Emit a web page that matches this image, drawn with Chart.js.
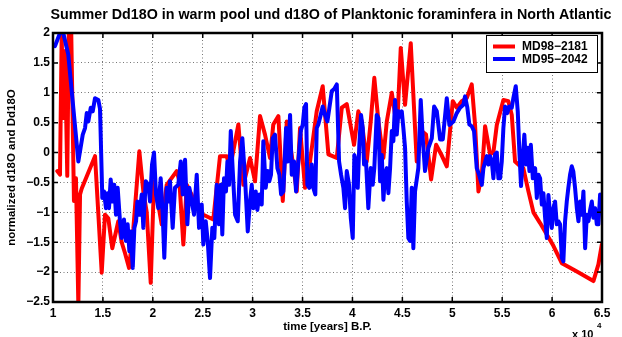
<!DOCTYPE html>
<html>
<head>
<meta charset="utf-8">
<script src="https://cdn.jsdelivr.net/npm/chart.js@4.4.0/dist/chart.umd.min.js"></script>
<style>
  html, body { margin: 0; padding: 0; background: #fff; }
  canvas { display: block; }
</style>
</head>
<body>
<canvas id="chart" width="622" height="337"></canvas>
<script>
// ─── Data (years B.P. / normalized values) ─────────────────────────────
const redYears = [
  10430, 10700, 10870, 11030, 11200, 11430, 11600, 11800, 12100, 12300,
  12540, 12710, 12880, 14210, 14880, 15210, 15540, 15940, 16540, 16880,
  17210, 17620, 18050, 18650, 19050, 19390, 19790, 20120, 20550, 20890,
  21390, 22390, 22660, 23060, 23400, 23900, 24400, 25060, 26060, 26730,
  27400, 27740, 28570, 29070, 29740, 30240, 30740, 31240, 31740, 32070,
  32580, 33020, 33420, 33920, 34420, 34750, 35250, 35750, 36420, 37020,
  37590, 38430, 38930, 39430, 40160, 40590, 40930, 41430, 41830, 42190,
  42600, 43100, 43440, 43940, 44270, 44500, 44840, 45270, 45840, 46440,
  46940, 47370, 47880, 48380, 48950, 49450, 50050, 50450, 50950, 51450,
  51950, 52280, 52620, 52960, 53290, 53790, 54120, 54460, 55120, 55620,
  55960, 56290, 56620, 57120, 57630, 58130, 58800, 59470, 60130, 60970,
  61300, 62480, 64140, 64640, 64980
];
const redValues = [
  -0.31, -0.37, 1.97, 0.58, 1.7, -0.39, 2.3, 2.3, -0.81, -0.43,
  -2.55, -0.70, -0.6, -0.06, -2.01, -1.04, -1.1, -1.6, -1.15, -1.5,
  -1.68, -1.93, -1.27, 0.02, -0.65, -1.0, -2.18, -0.48, -0.87, -1.2,
  -0.54, -0.31, -0.48, -1.54, -0.54, -0.71, -0.93, -1.04, -1.12, -0.06,
  -0.06, -0.26, 0.47, -0.54, -0.09, -0.48, 0.61, 0.3, -0.09, 0.47,
  0.61, -0.81, 0.52, -0.05, -0.65, 0.41, -0.59, -0.15, 0.69, 1.11,
  -0.03, -0.09, 0.75, 0.81, 0.13, 0.69, 0.52, -0.15, 0.52, 1.25,
  0.52, -0.09, 0.52, 1.0, 0.63, 0.52, 1.75, 0.8, 1.83, -0.15,
  0.36, 0.3, -0.45, 0.13, -0.05, -0.23, 0.86, 0.75, 0.86, 0.91,
  1.14, 0.47, -0.65, -0.37, 0.44, -0.03, 0.0, 0.46, 0.88, 0.86,
  0.63, -0.15, -0.2, -0.26, -0.65, -1.0, -1.18, -1.37, -1.56, -1.85,
  -1.88, -1.99, -2.15, -1.87, -1.54
];

const blueYears = [
  10200, 10700, 11030, 11530, 12540, 12980, 13210, 13380, 13540, 13780,
  13980, 14210, 14540, 14710, 14940, 15110, 15310, 15440, 15610, 15780,
  15980, 16140, 16310, 16480, 16710, 16880, 17110, 17310, 17480, 17650,
  17790, 17990, 18150, 18320, 18450, 18650, 18890, 19050, 19290, 19550,
  19720, 19920, 20120, 20320, 20550, 20790, 20990, 21150, 21390, 21550,
  21720, 21990, 22220, 22550, 22800, 23000, 23230, 23460, 23660, 23900,
  24130, 24400, 24630, 24900, 25060, 25300, 25500, 25730, 25960, 26160,
  26400, 26630, 26800, 26960, 27130, 27330, 27470, 27640, 27810, 28010,
  28240, 28510, 28740, 28970, 29240, 29510, 29740, 29910, 30070, 30310,
  30470, 30670, 30910, 31070, 31310, 31510, 31670, 31840, 32010, 32240,
  32480, 32680, 32850, 33080, 33350, 33520, 33750, 33920, 34150, 34350,
  34580, 34820, 35020, 35180, 35350, 35480, 35680, 35920, 36080, 36280,
  36420, 36580, 36820, 37020, 37250, 37490, 37690, 37930, 38160, 38430,
  38660, 38860, 39090, 39260, 39430, 39660, 39830, 40030, 40190, 40360,
  40530, 40690, 40860, 41030, 41160, 41360, 41590, 41830, 42030, 42190,
  42430, 42600, 42770, 42940, 43100, 43270, 43440, 43600, 43770, 43940,
  44100, 44270, 44440, 44600, 44770, 44940, 45100, 45270, 45440, 45600,
  45770, 45940, 46100, 46270, 46600, 46840, 47040, 47270, 47610, 47950,
  48180, 48450, 48780, 49050, 49450, 49710, 50110, 50450, 50780, 51110,
  51280, 51510, 51710, 51950, 52180, 52450, 52690, 52960, 53120, 53460,
  53620, 53790, 53960, 54120, 54290, 54460, 54620, 54790, 54960, 55120,
  55290, 55520, 55690, 55960, 56120, 56360, 56560, 56720, 56890, 57060,
  57220, 57390, 57560, 57730, 57870, 58070, 58300, 58470, 58630, 58800,
  58970, 59130, 59300, 59470, 59630, 59800, 59970, 60130, 60300, 60470,
  60630, 60800, 60970, 61130, 61300, 61470, 61630, 61800, 61970, 62130,
  62300, 62480, 62640, 62810, 62980, 63140, 63310, 63480, 63640, 63810,
  63980, 64140, 64310, 64480, 64640, 64810, 64980
];
const blueValues = [
  1.78, 2.0, 2.0, 1.64, -0.15, 0.3, 0.41, 0.66, 0.52, 0.75,
  0.69, 0.91, 0.88, 0.73, -0.76, -0.65, -0.93, -0.68, -0.93, -0.45,
  -0.82, -0.54, -1.04, -0.59, -1.15, -1.43, -1.12, -1.48, -1.2, -1.65,
  -1.32, -1.93, -1.26, -1.15, -0.82, -1.04, -0.7, -1.26, -0.48, -0.54,
  -0.82, -0.2, 0.0, -0.7, -0.93, -0.43, -1.04, -1.76, -0.59, -0.82,
  -0.48, -1.26, -0.59, -0.54, -0.15, -0.7, -0.12, -1.2, -0.59, -0.82,
  -1.04, -0.37, -1.26, -0.87, -1.54, -1.15, -1.48, -2.1, -1.26, -1.43,
  -0.54, -1.2, -0.54, -1.37, -0.43, -0.65, -0.15, -0.54, 0.36, -0.31,
  -1.04, -1.15, -0.15, 0.24, -0.43, -1.32, -0.81, -0.54, -0.93, -0.65,
  -0.96, -0.7, -0.87, 0.19, -0.59, -0.31, -0.48, -0.37, 0.24, 0.3,
  -0.26, -0.37, -0.7, -0.65, 0.41, -0.15, 0.63, -0.37, -0.15, -0.65,
  -0.15, 0.36, 0.47, 0.75, 0.81, -0.54, -0.59, -0.2, -0.59, -0.7,
  0.41, 0.47, 0.63, 0.77, 0.63, 0.52, 0.75, 1.03, 1.06, 1.14,
  -0.15, -0.37, -0.59, -0.93, -0.31, -0.54, -1.09, -1.43, -0.04, -0.15,
  -0.59, 0.13, 0.63, 0.41, -0.2, -0.15, -0.93, -0.26, -0.54, -0.26,
  0.63, 0.58, -0.48, -0.04, -0.79, -0.37, -0.26, -0.68, -0.26, 0.36,
  0.19, 0.88, 0.3, 0.69, 0.6, 0.69, 0.41, 0.08, -0.82, -1.43,
  -1.48, -0.59, -1.6, -0.65, -0.26, 0.88, 0.24, -0.31, 0.08, 0.24,
  0.77, 0.69, 0.22, 0.22, 0.91, 0.46, 0.52, 0.66, 0.75, 0.8,
  0.94, 0.75, 0.47, 0.44, 0.36, -0.26, -0.37, -0.54, -0.26, -0.06,
  -0.2, -0.06, -0.15, -0.43, -0.03, 0.0, -0.43, -0.43, -0.15, 0.41,
  0.77, 0.66, 0.77, 0.75, 0.91, 1.11, 0.69, 0.02, -0.56, -0.08,
  0.3, -0.2, 0.08, -0.31, 0.13, -0.43, -0.26, -0.76, -0.37, -0.43,
  -0.87, -0.68, -1.09, -1.43, -0.71, -1.04, -1.26, -0.93, -0.82, -1.2,
  -1.15, -1.2, -1.76, -1.82, -1.15, -0.82, -0.59, -0.37, -0.23, -0.32,
  -0.59, -0.93, -1.15, -0.82, -1.04, -0.65, -1.6, -1.04, -1.15, -0.96,
  -0.82, -1.09, -0.93, -1.2, -1.2, -0.7, -0.73
];

const seriesNames = ['MD98\u22122181', 'MD95\u22122042'];
const seriesColors = ['#ff0000', '#0000ff'];
const xTickValues = [10000, 15000, 20000, 25000, 30000, 35000, 40000, 45000, 50000, 55000, 60000, 65000];
const yTickValues = [-2.5, -2, -1.5, -1, -0.5, 0, 0.5, 1, 1.5, 2];

const chartTitle = 'Summer Dd18O in warm pool und d18O of Planktonic foraminfera in North Atlantic';
const FONT = "'Liberation Sans', Arial, Helvetica, sans-serif";

function toPoints(xs, ys) {
  return xs.map((x, i) => ({ x, y: ys[i] }));
}

function fmt(v) {
  return v < 0 ? '\u2212' + Math.abs(v) : String(v);
}

// ─── Frame, inward ticks, title, legend, exponent (MATLAB look) ───────
const matlabFrame = {
  id: 'matlabFrame',
  afterDraw(chart) {
    const { ctx, chartArea: a, scales: { x, y } } = chart;
    ctx.save();

    ctx.strokeStyle = '#000';
    ctx.lineWidth = 1.5;
    ctx.beginPath();
    xTickValues.forEach(v => {
      const px = x.getPixelForValue(v);
      ctx.moveTo(px, a.bottom); ctx.lineTo(px, a.bottom - 5);
      ctx.moveTo(px, a.top); ctx.lineTo(px, a.top + 5);
    });
    yTickValues.forEach(v => {
      const py = y.getPixelForValue(v);
      ctx.moveTo(a.left, py); ctx.lineTo(a.left + 5, py);
      ctx.moveTo(a.right, py); ctx.lineTo(a.right - 5, py);
    });
    ctx.stroke();

    ctx.lineWidth = 2.5;
    ctx.strokeRect(a.left, a.top, a.right - a.left, a.bottom - a.top);

    // title
    ctx.fillStyle = '#000';
    ctx.font = `bold 14.3px ${FONT}`;
    ctx.textAlign = 'center';
    ctx.textBaseline = 'middle';
    ctx.fillText(chartTitle, 331, 15);

    // legend
    const lx = 486, ly = 35, lw = 111, lh = 37;
    ctx.fillStyle = '#fff';
    ctx.fillRect(lx, ly, lw, lh);
    ctx.lineWidth = 1;
    ctx.strokeStyle = '#000';
    ctx.strokeRect(lx + 0.5, ly + 0.5, lw, lh);
    ctx.font = `bold 12px ${FONT}`;
    ctx.textAlign = 'left';
    seriesNames.forEach((name, i) => {
      const yy = ly + 11.5 + i * 12.5;
      ctx.strokeStyle = seriesColors[i];
      ctx.lineWidth = 4;
      ctx.beginPath();
      ctx.moveTo(lx + 7, yy); ctx.lineTo(lx + 29, yy);
      ctx.stroke();
      ctx.fillStyle = '#000';
      ctx.fillText(name, lx + 36, yy + 0.5);
    });

    // x 10^4 exponent
    ctx.font = `bold 11px ${FONT}`;
    ctx.textBaseline = 'alphabetic';
    ctx.fillText('x 10', 572, 338);
    ctx.font = `bold 8px ${FONT}`;
    ctx.fillText('4', 597, 328);

    ctx.restore();
  }
};

new Chart(document.getElementById('chart'), {
  type: 'line',
  data: {
    datasets: [
      {
        label: seriesNames[0],
        data: toPoints(redYears, redValues),
        borderColor: seriesColors[0],
        borderWidth: 4,
        pointRadius: 0,
        tension: 0,
        fill: false,
        clip: 0,
        order: 1
      },
      {
        label: seriesNames[1],
        data: toPoints(blueYears, blueValues),
        borderColor: seriesColors[1],
        borderWidth: 4,
        pointRadius: 0,
        tension: 0,
        fill: false,
        clip: 0,
        order: 0
      }
    ]
  },
  options: {
    responsive: false,
    animation: false,
    layout: { padding: { top: 33, right: 20, left: 0, bottom: 0 } },
    elements: { line: { borderJoinStyle: 'round', borderCapStyle: 'round' } },
    plugins: {
      legend: { display: false },
      title: { display: false },
      tooltip: { enabled: false }
    },
    scales: {
      x: {
        type: 'linear',
        min: 10000,
        max: 65000,
        afterBuildTicks: (scale) => { scale.ticks = xTickValues.map(v => ({ value: v })); },
        afterFit: (scale) => { scale.height = 35; },
        ticks: {
          callback: (v) => String(v / 10000),
          color: '#000',
          font: { family: FONT, size: 12, weight: 'bold' },
          padding: 4,
          maxRotation: 0,
          autoSkip: false
        },
        grid: { color: '#777', lineWidth: 1, drawTicks: false },
        border: { display: false, dash: [1, 2.5] },
        title: {
          display: true,
          text: 'time [years] B.P.',
          color: '#000',
          font: { family: FONT, size: 11.5, weight: 'bold' },
          padding: { top: 0, bottom: 3 }
        }
      },
      y: {
        min: -2.5,
        max: 2,
        afterBuildTicks: (scale) => { scale.ticks = yTickValues.map(v => ({ value: v })); },
        afterFit: (scale) => { scale.width = 53; },
        ticks: {
          callback: (v) => fmt(v),
          color: '#000',
          font: { family: FONT, size: 12, weight: 'bold' },
          padding: 3,
          autoSkip: false
        },
        grid: { color: '#777', lineWidth: 1, drawTicks: false },
        border: { display: false, dash: [1, 2.5] },
        title: {
          display: true,
          text: 'normalized d18O and Dd18O',
          color: '#000',
          font: { family: FONT, size: 11.5, weight: 'bold' },
          padding: { top: 5, bottom: 0 }
        }
      }
    }
  },
  plugins: [matlabFrame]
});
</script>
</body>
</html>
